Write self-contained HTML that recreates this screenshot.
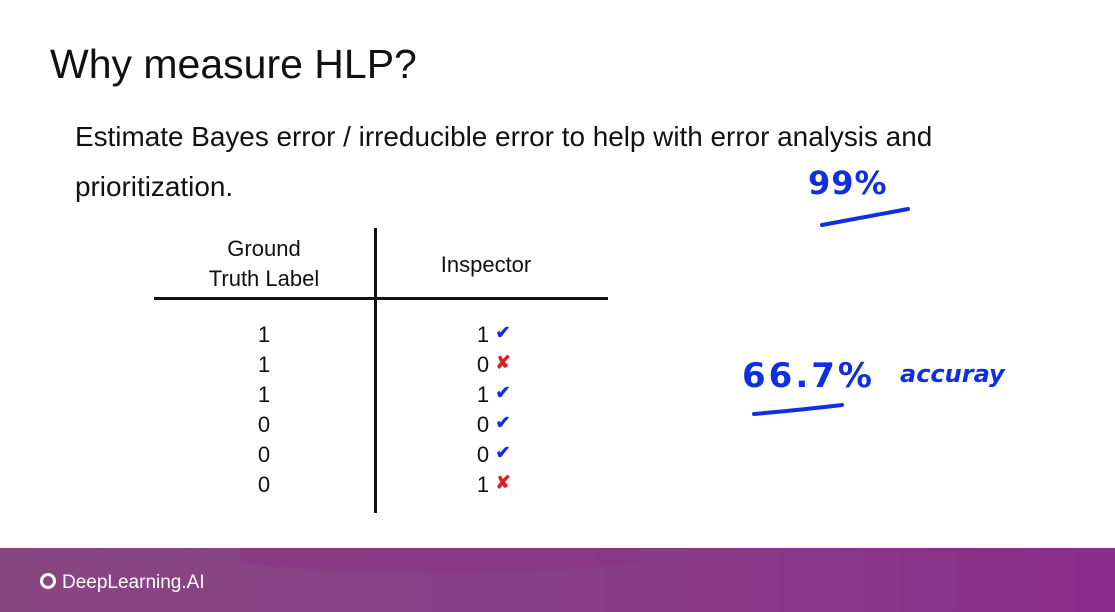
<!DOCTYPE html>
<html><head><meta charset="utf-8"><style>
body{margin:0;width:1115px;height:612px;overflow:hidden;background:#fff;font-family:"Liberation Sans",sans-serif;position:relative}
.a{position:absolute;white-space:nowrap}
.n{position:absolute;font-size:22px;color:#111;transform:translate(-50%,-50%)}
.hw{position:absolute;color:#1030e0;font-family:"DejaVu Sans",sans-serif;font-weight:bold;white-space:nowrap}
</style></head><body>
<div class="a" style="left:50px;top:41px;font-size:41px;color:#111">Why measure HLP?</div>
<div class="a" style="left:75px;top:112px;font-size:27.9px;line-height:50px;color:#111">Estimate Bayes error / irreducible error to help with error analysis and<br>prioritization.</div>
<div style="position:absolute;left:374px;top:228px;width:3px;height:285px;background:#111"></div>
<div style="position:absolute;left:154px;top:297px;width:454px;height:3px;background:#111"></div>
<div class="n" style="left:264px;top:264px;text-align:center;line-height:30px">Ground<br>Truth Label</div>
<div class="n" style="left:486px;top:265px">Inspector</div>
<div id="rows"></div>
<div class="hw" style="left:808px;top:164px;font-size:32px;letter-spacing:1px">99%</div>
<svg style="position:absolute;left:0;top:0" width="1115" height="612">
<path d="M822 225 Q860 218 908 209" stroke="#1030e0" stroke-width="4" fill="none" stroke-linecap="round"/>
<path d="M754 414 Q800 410 842 405" stroke="#1030e0" stroke-width="4" fill="none" stroke-linecap="round"/>
</svg>
<div class="hw" style="left:742px;top:356px;font-size:34px;letter-spacing:3px">66.7%</div>
<div class="hw" style="left:900px;top:360px;font-size:24px;font-style:italic">accuray</div>
<div style="position:absolute;left:0;top:548px;width:1115px;height:64px;background:linear-gradient(90deg,#884681 0%,#873f86 50%,#8a2c8a 100%)">
<div style="position:absolute;left:240px;top:0;width:400px;height:24px;border-radius:0 0 50% 50%;background:#8d2a88;opacity:.35"></div>
<div style="position:absolute;left:40px;top:25px;width:16px;height:16px;border-radius:50%;border:3px solid #fff;box-sizing:border-box"></div>
<div class="a" style="left:62px;top:24px;font-size:19px;color:#fff">DeepLearning.AI</div>
</div>
<script>
const truth=[1,1,1,0,0,0];
const inspector=[1,0,1,0,0,1];
const rows=document.getElementById('rows');
truth.forEach((t,i)=>{
 const y=335+i*30;
 const a=document.createElement('div');a.className='n';a.style.left='264px';a.style.top=y+'px';a.textContent=t;
 
 
 rows.appendChild(a);
 const b=document.createElement('div');b.className='n';b.style.left='483px';b.style.top=y+'px';b.textContent=inspector[i];
 
 
 rows.appendChild(b);
 const ok=t===inspector[i];
 const m=document.createElement('div');m.className='n';m.style.left='503px';m.style.top=(y-2)+'px';
 m.style.color=ok?'#1030e0':'#e02020';m.style.fontWeight='bold';m.style.fontSize='18px';m.textContent=ok?'✔':'✘';
 
 
 rows.appendChild(m);
});
</script>
</body></html>
